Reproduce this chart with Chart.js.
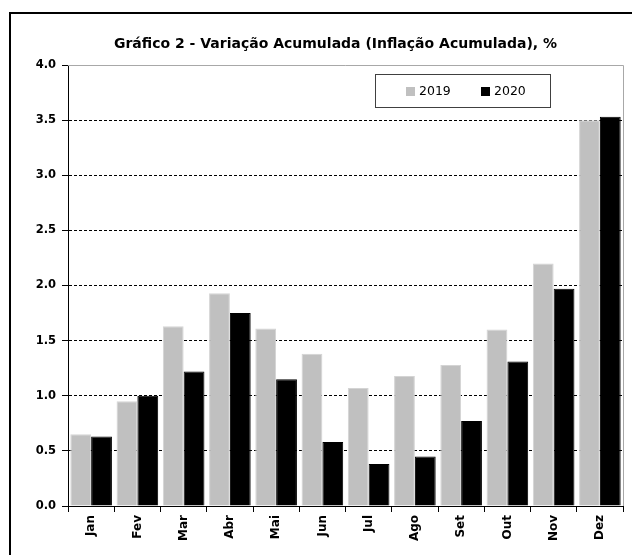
<!DOCTYPE html>
<html>
<head>
<meta charset="utf-8">
<script src="https://cdn.jsdelivr.net/npm/chart.js@4"></script>
<style>
  html, body { margin: 0; padding: 0; background: #fff; overflow: hidden; }
  #frame { position: absolute; left: 9px; top: 12px; width: 700px; height: 600px; border: 2px solid #000; }
  #chart { position: absolute; left: 0; top: 0; }
</style>
</head>
<body>
<div id="frame"></div>
<canvas id="chart" width="632" height="555"></canvas>
<script>
const meses = ['Jan', 'Fev', 'Mar', 'Abr', 'Mai', 'Jun', 'Jul', 'Ago', 'Set', 'Out', 'Nov', 'Dez'];

const valores2019 = [0.65, 0.95, 1.63, 1.93, 1.61, 1.38, 1.07, 1.18, 1.28, 1.60, 2.20, 3.50];
const valores2020 = [0.63, 1.00, 1.22, 1.75, 1.15, 0.58, 0.38, 0.45, 0.77, 1.31, 1.97, 3.53];

const titulo = 'Gráfico 2 - Variação Acumulada (Inflação Acumulada), %';

// título, moldura cinza no topo/direita da área do gráfico e legenda dentro
const extras = {
    id: 'extras',
    beforeDatasetsDraw(chart) {
        const { ctx, chartArea: a } = chart;
        ctx.save();
        ctx.strokeStyle = '#a8a8a8';
        ctx.lineWidth = 1;
        ctx.beginPath();
        ctx.moveTo(a.left, a.top + 0.5);
        ctx.lineTo(a.right + 0.5, a.top + 0.5);
        ctx.lineTo(a.right + 0.5, a.bottom);
        ctx.stroke();
        ctx.restore();
    },
    afterDraw(chart) {
        const { ctx, chartArea: a } = chart;
        ctx.save();
        ctx.fillStyle = '#000';
        ctx.font = 'bold 14px "DejaVu Sans"';
        ctx.textAlign = 'center';
        ctx.textBaseline = 'middle';
        ctx.fillText(titulo, (a.left + a.right) / 2 - 10, a.top - 21);

        const x0 = a.left + 307, y0 = a.top + 9, w = 175, h = 33;
        ctx.fillStyle = '#fff';
        ctx.fillRect(x0, y0, w, h);
        ctx.strokeStyle = '#404040';
        ctx.lineWidth = 1;
        ctx.strokeRect(x0 + 0.5, y0 + 0.5, w, h);
        ctx.font = '12.5px "DejaVu Sans"';
        ctx.textAlign = 'left';
        chart.data.datasets.forEach((ds, i) => {
            const ix = x0 + 31 + i * 75;
            ctx.fillStyle = ds.backgroundColor;
            ctx.fillRect(ix, y0 + 13, 9, 9);
            ctx.fillStyle = '#000';
            ctx.fillText(ds.label, ix + 13, y0 + 18);
        });
        ctx.restore();
    }
};

new Chart(document.getElementById('chart'), {
    type: 'bar',
    data: {
        labels: meses,
        datasets: [
            {
                label: '2019',
                data: valores2019,
                backgroundColor: '#c0c0c0',
                borderColor: '#d4d4d4',
                borderWidth: 1,
                categoryPercentage: 0.9,
                barPercentage: 1.0
            },
            {
                label: '2020',
                data: valores2020,
                backgroundColor: '#000000',
                borderColor: '#000000',
                borderWidth: 1,
                categoryPercentage: 0.9,
                barPercentage: 1.0
            }
        ]
    },
    options: {
        responsive: false,
        animation: false,
        layout: { padding: { top: 65, right: 9, left: 0, bottom: 0 } },
        plugins: {
            legend: { display: false },
            tooltip: { enabled: false },
            title: { display: false }
        },
        scales: {
            x: {
                grid: {
                    drawOnChartArea: false,
                    tickLength: 6,
                    tickColor: '#000'
                },
                border: { color: '#000', width: 1 },
                ticks: {
                    color: '#000',
                    minRotation: 90,
                    maxRotation: 90,
                    padding: 3,
                    font: { family: 'DejaVu Sans', size: 12, weight: 'bold' }
                },
                afterFit: s => { s.height = 49; }
            },
            y: {
                min: 0,
                max: 4,
                ticks: {
                    stepSize: 0.5,
                    color: '#000',
                    padding: 6,
                    font: { family: 'DejaVu Sans', size: 11.5, weight: 'bold' },
                    callback: v => Number(v).toFixed(1)
                },
                grid: {
                    color: c => (c.tick && (c.tick.value === 0 || c.tick.value === 4)) ? 'rgba(0,0,0,0)' : '#000',
                    tickColor: '#000',
                    tickLength: 6,
                    tickBorderDash: []
                },
                border: { color: '#000', width: 1, dash: [3, 2] },
                afterFit: s => { s.width = 68; }
            }
        }
    },
    plugins: [extras]
});
</script>
</body>
</html>
